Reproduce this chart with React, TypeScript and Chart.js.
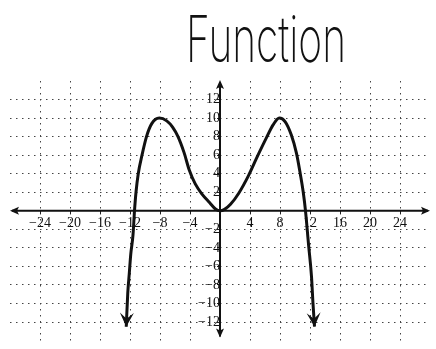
import React, { useEffect, useRef } from 'react';
import { Chart, registerables } from 'chart.js';

Chart.register(...registerables);

// ---- data ----
const titleText = 'Function';

const curveX = [
  -12.5, -12.3, -12.1, -11.9, -11.6, -11.4, -11.2, -10.9, -10.4, -9.8, -9.1, -8.1,
  -7.1, -6.3, -5.6, -4.8, -4.1, -3.3, -2.4, -1.4, -0.6, 0,
  0.6, 1.4, 2.5, 3.8, 5.0, 6.2, 7.1, 7.9, 8.7, 9.5, 10.2, 10.7, 11.1, 11.4, 11.8, 12.2, 12.4, 12.6,
];
const curveY = [
  -12.5, -8.9, -6.8, -4.7, -2.6, 0, 2, 4, 6, 8, 9.4, 10,
  9.7, 9.0, 8.0, 6.3, 4.4, 2.9, 1.8, 0.9, 0.2, 0,
  0.15, 0.7, 1.9, 3.8, 5.9, 7.9, 9.3, 10, 9.6, 8.2, 6.2, 4, 2, 0, -3.6, -7.1, -10, -12.5,
];

const xTickValues = [-24, -20, -16, -12, -8, -4, 0, 4, 8, 12, 16, 20, 24];
const xTickLabels = ['−24', '−20', '−16', '−12', '−8', '−4', '', '4', '8', '12', '16', '20', '24'];
const yTickValues = [-12, -10, -8, -6, -4, -2, 0, 2, 4, 6, 8, 10, 12];
const yTickLabels = ['−12', '−10', '−8', '−6', '−4', '−2', '', '2', '4', '6', '8', '10', '12'];
const xRange = [-28, 28];
const yRange = [-14, 14];

const INK = '#111';

function drawArrowHead(ctx: CanvasRenderingContext2D, tx: number, ty: number, angle: number, len: number, half: number, notch: number) {
  ctx.save();
  ctx.translate(tx, ty);
  ctx.rotate(angle);
  ctx.beginPath();
  ctx.moveTo(0, 0);
  ctx.lineTo(-len, -half);
  ctx.lineTo(-len + notch, 0);
  ctx.lineTo(-len, half);
  ctx.closePath();
  ctx.fillStyle = INK;
  ctx.fill();
  ctx.restore();
}

const decorPlugin = {
  id: 'decor',
  beforeDatasetsDraw(chart: any) {
    const { ctx, chartArea, scales } = chart;
    const y0 = scales.y.getPixelForValue(0);
    const x0 = scales.x.getPixelForValue(0);
    ctx.save();
    ctx.strokeStyle = INK;
    ctx.lineWidth = 2;
    ctx.beginPath();
    ctx.moveTo(chartArea.left + 2, y0);
    ctx.lineTo(chartArea.right - 2, y0);
    ctx.moveTo(x0, chartArea.top + 1);
    ctx.lineTo(x0, chartArea.bottom - 4);
    ctx.stroke();
    ctx.restore();
    drawArrowHead(ctx, chartArea.right, y0, 0, 9, 4, 2);
    drawArrowHead(ctx, chartArea.left, y0, Math.PI, 9, 4, 2);
    drawArrowHead(ctx, x0, chartArea.top - 1, -Math.PI / 2, 9, 4, 2);
    drawArrowHead(ctx, x0, chartArea.bottom - 3, Math.PI / 2, 9, 4, 2);
  },
  afterDatasetsDraw(chart: any) {
    const { ctx } = chart;
    const pts = chart.getDatasetMeta(0).data;
    if (pts.length < 2) return;
    const a0 = pts[0], a1 = pts[1];
    const b0 = pts[pts.length - 1], b1 = pts[pts.length - 2];
    drawArrowHead(ctx, a0.x, a0.y, Math.atan2(a0.y - a1.y, a0.x - a1.x), 14, 7, 6);
    drawArrowHead(ctx, b0.x, b0.y, Math.atan2(b0.y - b1.y, b0.x - b1.x), 14, 7, 6);
  },
  afterDraw(chart: any) {
    const { ctx, width } = chart;
    ctx.save();
    ctx.fillStyle = INK;
    ctx.font = '200 64px Inter, "DejaVu Sans", sans-serif';
    ctx.textAlign = 'center';
    ctx.textBaseline = 'alphabetic';
    ctx.fillText(titleText, width * 0.61, 62, 160);
    ctx.restore();
  },
};

export default function App() {
  const canvasRef = useRef<HTMLCanvasElement | null>(null);

  useEffect(() => {
    if (!canvasRef.current) return;
    const points = curveX.map((x, i) => ({ x, y: curveY[i] }));
    const chart = new Chart(canvasRef.current, {
      type: 'line',
      data: {
        datasets: [
          {
            data: points,
            borderColor: INK,
            borderWidth: 3,
            pointRadius: 0,
            cubicInterpolationMode: 'monotone',
            fill: false,
          },
        ],
      },
      options: {
        animation: false,
        responsive: true,
        maintainAspectRatio: false,
        parsing: false,
        layout: { padding: { left: 10, right: 6, top: 81, bottom: 2 } },
        plugins: {
          legend: { display: false },
          title: { display: false },
          tooltip: { enabled: false },
        },
        scales: {
          x: {
            type: 'linear',
            min: xRange[0],
            max: xRange[1],
            position: { y: 0 } as any,
            afterBuildTicks: (scale: any) => {
              scale.ticks = xTickValues.map((v) => ({ value: v }));
            },
            ticks: {
              autoSkip: false,
              maxRotation: 0,
              padding: 1,
              color: '#111',
              font: { family: '"Liberation Serif", serif', size: 14 },
              callback: (v: any) => {
                const i = xTickValues.indexOf(Number(v));
                return i >= 0 ? xTickLabels[i] : '';
              },
            },
            grid: {
              color: (c: any) => (c.tick && c.tick.value === 0 ? 'rgba(0,0,0,0)' : '#444'),
              lineWidth: 1,
              drawTicks: true,
              tickLength: 3,
              tickColor: '#222',
              tickBorderDash: [],
            },
            border: { display: false, dash: [1.5, 4.5] },
          },
          y: {
            type: 'linear',
            min: yRange[0],
            max: yRange[1],
            position: { x: 0 } as any,
            afterBuildTicks: (scale: any) => {
              scale.ticks = yTickValues.map((v) => ({ value: v }));
            },
            ticks: {
              autoSkip: false,
              padding: 0,
              color: '#111',
              font: { family: '"Liberation Serif", serif', size: 14 },
              callback: (v: any) => {
                const i = yTickValues.indexOf(Number(v));
                return i >= 0 ? yTickLabels[i] : '';
              },
            },
            grid: {
              color: (c: any) => (c.tick && c.tick.value === 0 ? 'rgba(0,0,0,0)' : '#444'),
              lineWidth: 1,
              drawTicks: true,
              tickLength: 3,
              tickColor: '#222',
              tickBorderDash: [],
            },
            border: { display: false, dash: [1.5, 4.5] },
          },
        },
      },
      plugins: [decorPlugin],
    });
    return () => chart.destroy();
  }, []);

  return (
    <div style={{ position: 'fixed', left: 0, top: 0, width: 436, height: 349, background: '#fff' }}>
      <canvas ref={canvasRef} />
    </div>
  );
}
